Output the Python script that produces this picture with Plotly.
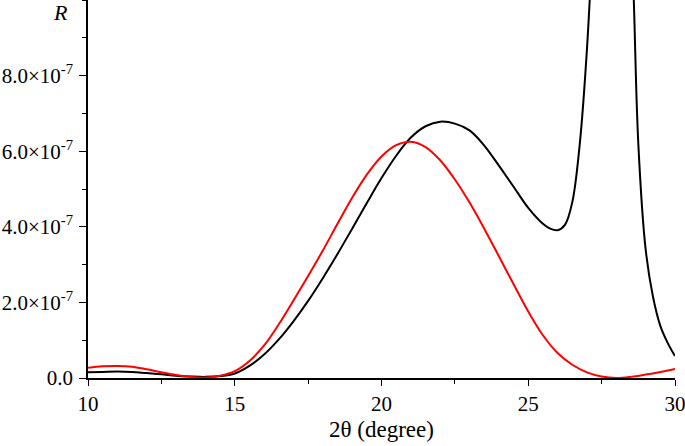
import numpy as np
import plotly.graph_objects as go

SCALE = 1e-7

theta_red = [10.0, 10.5, 11.0, 11.5, 12.0, 12.5, 13.0, 13.5, 14.0, 14.5, 15.0, 15.5, 16.0, 16.5,
             17.0, 17.5, 18.0, 18.5, 19.0, 19.5, 20.0, 20.5, 21.0, 21.5, 22.0, 22.5, 23.0,
             23.5, 24.0, 24.5, 25.0, 25.5, 26.0, 26.5, 27.0, 27.5, 28.0, 28.5, 29.0, 29.5, 30.0]
R_red = [0.27, 0.31, 0.32, 0.30, 0.23, 0.15, 0.08, 0.03, 0.01, 0.06, 0.18, 0.45, 0.86, 1.42,
         2.05, 2.70, 3.37, 4.08, 4.77, 5.38, 5.86, 6.16, 6.25, 6.11, 5.76, 5.25, 4.64,
         3.95, 3.22, 2.48, 1.76, 1.13, 0.66, 0.35, 0.15, 0.04, 0.00, 0.03, 0.09, 0.16, 0.24]

theta_black = [10.0, 10.5, 11.0, 11.5, 12.0, 12.5, 13.0, 13.5, 14.0, 14.5, 15.0, 15.5, 16.0, 16.5,
               17.0, 17.5, 18.0, 18.5, 19.0, 19.5, 20.0, 20.5, 21.0, 21.5, 22.0, 22.5, 23.0, 23.5,
               24.0, 24.5, 25.0, 25.5, 25.75, 26.0, 26.25, 26.5, 26.75, 27.0, 27.25, 27.5, 27.85,
               28.2, 28.45, 28.6, 28.75, 29.0, 29.25, 29.5, 29.75, 30.0]
R_black = [0.15, 0.16, 0.17, 0.16, 0.13, 0.10, 0.06, 0.04, 0.03, 0.05, 0.12, 0.32, 0.62, 1.02,
           1.50, 2.04, 2.64, 3.28, 3.95, 4.63, 5.29, 5.88, 6.36, 6.66, 6.78, 6.73, 6.55, 6.15,
           5.62, 5.06, 4.50, 4.08, 3.95, 3.91, 4.05, 4.65, 6.15, 8.70, 12.5, 17.0, 21.0,
           18.0, 13.5, 9.9, 6.2, 3.4, 2.15, 1.38, 0.93, 0.58]

y_tickvals = [0, 2, 4, 6, 8]
y_ticktext = ["0.0", "2.0×10<sup>-7</sup>", "4.0×10<sup>-7</sup>",
              "6.0×10<sup>-7</sup>", "8.0×10<sup>-7</sup>"]
x_tickvals = [10, 15, 20, 25, 30]

FONT = "Liberation Serif"

fig = go.Figure()
fig.add_trace(go.Scatter(x=theta_black, y=np.array(R_black) * SCALE, mode="lines",
                         line=dict(color="#000000", width=2, shape="spline", smoothing=1),
                         showlegend=False, cliponaxis=True, hoverinfo="skip"))
fig.add_trace(go.Scatter(x=theta_red, y=np.array(R_red) * SCALE, mode="lines",
                         line=dict(color="#ff0000", width=2, shape="spline", smoothing=1),
                         showlegend=False, cliponaxis=True, hoverinfo="skip"))

fig.update_layout(
    width=685, height=446,
    margin=dict(l=88, r=10, t=0, b=68, autoexpand=False),
    plot_bgcolor="white", paper_bgcolor="white",
    font=dict(family=FONT, size=21, color="black"),
    xaxis=dict(range=[10, 30], tickmode="array", tickvals=x_tickvals,
               ticks="outside", ticklen=6, tickwidth=1.3, tickcolor="black",
               showline=True, linecolor="black", linewidth=1.5, showgrid=False, zeroline=False,
               automargin=False, ticklabeloverflow="allow",
               minor=dict(tickmode="linear", tick0=10, dtick=2.5, ticks="outside", ticklen=4,
                          tickwidth=1.3, tickcolor="black", showgrid=False),
               title=dict(text="2θ (degree)", font=dict(size=23), standoff=6),
               tickfont=dict(size=21)),
    yaxis=dict(range=[0, 10 * SCALE], tickmode="array",
               tickvals=[v * SCALE for v in y_tickvals], ticktext=y_ticktext,
               ticks="outside", ticklen=7, tickwidth=1.3, tickcolor="black",
               showline=True, linecolor="black", linewidth=1.5, showgrid=False, zeroline=False,
               automargin=False, ticklabeloverflow="allow", ticklabelstandoff=2,
               minor=dict(tickmode="linear", tick0=0, dtick=SCALE, ticks="outside", ticklen=4,
                          tickwidth=1.3, tickcolor="black", showgrid=False),
               tickfont=dict(size=21)),
    annotations=[dict(text="<i>R</i>", xref="paper", yref="paper", x=0, y=1,
                      xanchor="right", yanchor="top", xshift=-18, yshift=2, showarrow=False,
                      font=dict(family=FONT, size=22, color="black"))],
)

fig.write_html("out.html", config={"displayModeBar": False},
               post_script="document.body.style.margin='0';document.body.style.overflow='hidden';")
